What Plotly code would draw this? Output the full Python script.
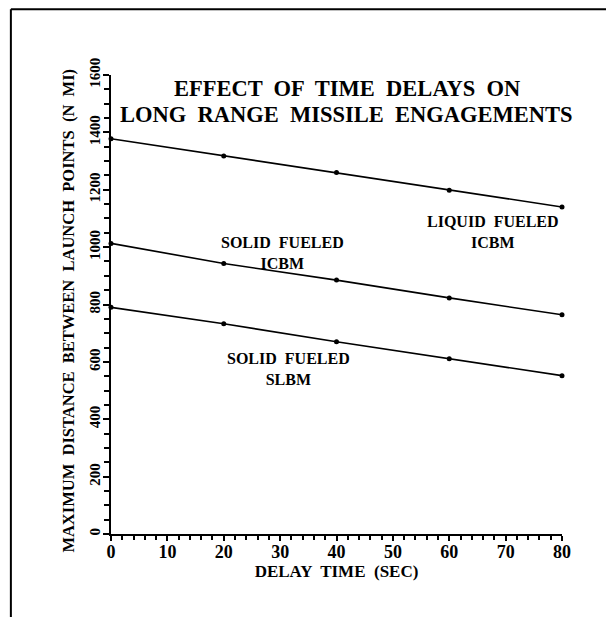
import plotly.graph_objects as go

delay_sec = [0, 20, 40, 60, 80]
liquid_icbm = [1378, 1318, 1260, 1198, 1140]
solid_icbm = [1013, 943, 885, 823, 764]
solid_slbm = [790, 733, 670, 611, 552]

labels = [
    ("LIQUID  FUELED<br>ICBM", 67.7, 1052),
    ("SOLID  FUELED<br>ICBM", 30.4, 981),
    ("SOLID  FUELED<br>SLBM", 31.5, 574),
]
title_lines = ["EFFECT  OF  TIME  DELAYS  ON", "LONG  RANGE  MISSILE  ENGAGEMENTS"]
y_title = "MAXIMUM  DISTANCE  BETWEEN  LAUNCH  POINTS  (N  MI)"
x_title = "DELAY  TIME  (SEC)"

FONT = "Liberation Serif"

fig = go.Figure()
for ys in (liquid_icbm, solid_icbm, solid_slbm):
    fig.add_trace(go.Scatter(
        x=delay_sec, y=ys, mode="lines+markers",
        line=dict(color="black", width=1.6),
        marker=dict(color="black", size=5),
        showlegend=False, cliponaxis=False,
    ))

for text, x, y in labels:
    fig.add_annotation(x=x, y=y, text="<b>" + text + "</b>", showarrow=False,
                       font=dict(family=FONT, size=16, color="black"),
                       align="center")

for line, py in zip(title_lines, (0.9706, 0.915)):
    fig.add_annotation(xref="paper", yref="paper", x=0.523, y=py,
                       xanchor="center", yanchor="middle",
                       text="<b>" + line + "</b>", showarrow=False,
                       font=dict(family=FONT, size=22.5, color="black"))

fig.add_annotation(xref="paper", yref="paper", x=-0.095, y=0.487, textangle=-90,
                   xanchor="center", yanchor="middle",
                   text="<b>" + y_title + "</b>", showarrow=False,
                   font=dict(family=FONT, size=16.5, color="black"))

# scanned page frame
fig.add_shape(type="line", xref="paper", yref="paper", x0=-0.222, x1=1.12, y0=1.143, y1=1.143,
              line=dict(color="black", width=2))
fig.add_shape(type="line", xref="paper", yref="paper", x0=-0.222, x1=-0.222, y0=1.143, y1=-0.19,
              line=dict(color="black", width=2))

fig.update_xaxes(
    range=[0, 80], dtick=10, tick0=0, showgrid=False, zeroline=False,
    showline=True, linecolor="black", linewidth=2,
    ticks="outside", ticklen=5, tickwidth=2, tickcolor="black",
    minor=dict(dtick=2, ticks="outside", ticklen=4, tickwidth=1.5, tickcolor="black"),
    tickfont=dict(family=FONT, size=18, color="black"),
    ticklabelstandoff=-5,
    title=dict(text="<b>" + x_title + "</b>", font=dict(family=FONT, size=17, color="black"), standoff=0),
    tickprefix="<b>", ticksuffix="</b>",
)
fig.update_yaxes(
    range=[0, 1600], dtick=200, tick0=0, showgrid=False, zeroline=False,
    showline=True, linecolor="black", linewidth=2,
    ticks="outside", ticklen=6, tickwidth=2, tickcolor="black",
    minor=dict(dtick=50, ticks="outside", ticklen=5, tickwidth=1.5, tickcolor="black"),
    tickangle=-90,
    tickfont=dict(family=FONT, size=15, color="black"),
    ticklabelstandoff=-3,
    tickprefix="<b>", ticksuffix="</b>",
)

fig.update_layout(
    width=606, height=609,
    margin=dict(l=103, r=52, t=67, b=83),
    paper_bgcolor="white", plot_bgcolor="white",
)

fig.write_html("out.html")
